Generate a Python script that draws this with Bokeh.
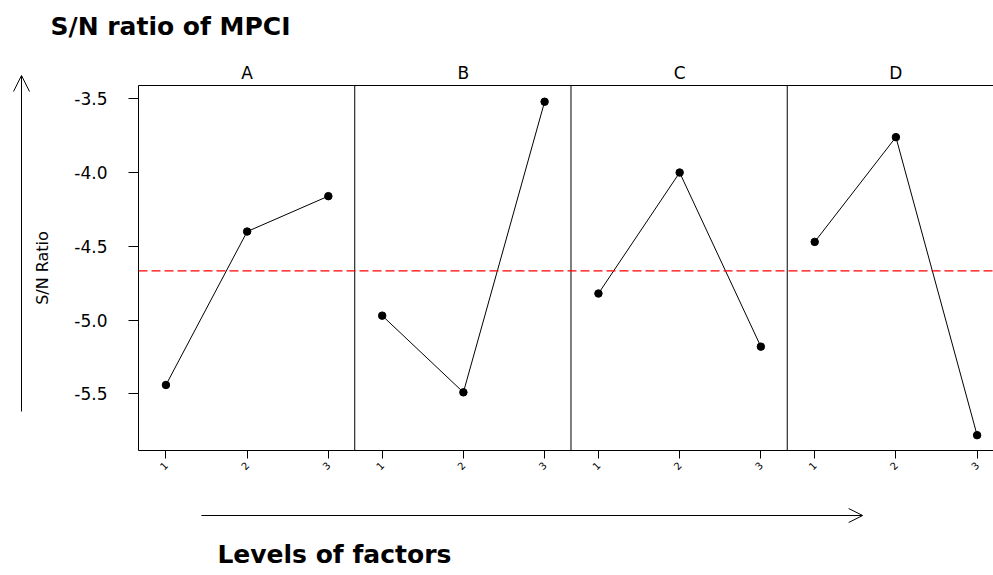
import math
import numpy as np
from bokeh.plotting import figure
from bokeh.layouts import row, column
from bokeh.models import (Range1d, LinearAxis, FixedTicker, Span, Arrow,
                          OpenHead, PrintfTickFormatter)
from bokeh.core.properties import value
from bokeh.embed import file_html
from bokeh.resources import INLINE

# ---- data ----
factors = ["A", "B", "C", "D"]
levels = [1, 2, 3]
level_labels = ["1", "2", "3"]
sn_A = [-5.44, -4.40, -4.16]
sn_B = [-4.97, -5.49, -3.52]
sn_C = [-4.82, -4.00, -5.18]
sn_D = [-4.47, -3.76, -5.78]
y_ticks = [-5.5, -5.0, -4.5, -4.0, -3.5]

series = [sn_A, sn_B, sn_C, sn_D]
grand_mean = float(np.mean(np.concatenate([np.array(s) for s in series])))

FONT = "DejaVu Sans"


def decor(w, h, xr, yr, left_border=0):
    f = figure(width=w, height=h, x_range=Range1d(*xr), y_range=Range1d(*yr),
               output_backend="svg", toolbar_location=None,
               x_axis_type=None, y_axis_type=None,
               min_border_left=left_border, min_border_right=0,
               min_border_top=0, min_border_bottom=0)
    f.outline_line_color = None
    f.background_fill_color = "white"
    f.border_fill_color = "white"
    return f


# ---- main panel figure ----
x_start = 0.662          # left edge of first panel in level units
panel_w = 2.663          # width of one panel in level units
x_end = x_start + 856 / 81.3

p = figure(width=963, height=425,
           x_range=Range1d(x_start, x_end), y_range=Range1d(-5.884, -3.41),
           output_backend="svg", toolbar_location=None,
           x_axis_type=None, y_axis_type=None,
           min_border_left=107, min_border_right=0,
           min_border_top=30, min_border_bottom=30)
p.outline_line_color = None
p.background_fill_color = "white"
p.border_fill_color = "white"

p.extra_x_ranges = {f"f{k}": Range1d(x_start - k * panel_w, x_end - k * panel_w)
                    for k in range(len(factors))}

for k in range(1, len(factors)):
    p.add_layout(Span(location=x_start + k * panel_w, dimension="height",
                      line_color="black", line_width=1))

p.add_layout(Span(location=grand_mean, dimension="width", line_color="#FF0000",
                  line_dash="9 4", line_width=1.3))

for k, vals in enumerate(series):
    p.line(levels, vals, x_range_name=f"f{k}", line_color="black", line_width=1)
    p.scatter(levels, vals, x_range_name=f"f{k}", size=7.5,
              fill_color="black", line_color="black")

tick_pos = [k * panel_w + lv for k in range(len(factors)) for lv in levels]
overrides = {k * panel_w + lv: lab for k in range(len(factors))
             for lv, lab in zip(levels, level_labels)}
xax = LinearAxis(ticker=FixedTicker(ticks=tick_pos), major_label_overrides=overrides,
                 major_label_orientation=math.pi / 4, major_label_text_font=FONT,
                 major_label_text_font_size="10px", major_label_text_color="black",
                 major_tick_out=8, major_tick_in=0, minor_tick_line_color=None,
                 major_label_standoff=5, axis_line_color="black",
                 major_tick_line_color="black")
p.add_layout(xax, "below")

strip_pos = [k * panel_w + levels[1] for k in range(len(factors))]
top = LinearAxis(ticker=FixedTicker(ticks=strip_pos),
                 major_label_overrides={sp: f for sp, f in zip(strip_pos, factors)},
                 major_label_text_font=FONT, major_label_text_font_size="17px",
                 major_label_text_color="black", major_label_standoff=3,
                 major_tick_line_color=None, minor_tick_line_color=None,
                 major_tick_out=0, major_tick_in=0,
                 axis_line_color="black")
p.add_layout(top, "above")

yax = LinearAxis(ticker=FixedTicker(ticks=y_ticks),
                 formatter=PrintfTickFormatter(format="%.1f"),
                 major_tick_out=10, major_tick_in=0, minor_tick_line_color=None,
                 major_label_standoff=21, major_label_text_font=FONT,
                 major_label_text_font_size="17px", major_label_text_color="black",
                 axis_label="S/N Ratio", axis_label_text_font=FONT,
                 axis_label_text_font_style="normal", axis_label_text_font_size="16px",
                 axis_label_text_color="black", axis_label_standoff=19,
                 axis_line_color="black", major_tick_line_color="black")
p.add_layout(yax, "left")

# ---- decoration figures (pixel coordinates, y downward) ----
head = decor(993, 55, (0, 993), (55, 0))
head.text(x=[50], y=[26], text=["S/N ratio of MPCI"], text_font=value(FONT),
          text_font_style="bold", text_font_size="25px",
          text_baseline="alphabetic", text_color="black")

left = decor(30, 520, (0, 30), (575, 55))
left.add_layout(Arrow(end=OpenHead(size=16, line_width=1, line_color="black"),
                      x_start=21, y_start=411, x_end=21, y_end=75,
                      line_color="black", line_width=1))

foot = decor(963, 95, (137, 993), (575, 480), left_border=107)
foot.add_layout(Arrow(end=OpenHead(size=14, line_width=1, line_color="black"),
                      x_start=200, y_start=515, x_end=862, y_end=515,
                      line_color="black", line_width=1))
foot.text(x=[216], y=[554], text=["Levels of factors"], text_font=value(FONT),
          text_font_style="bold", text_font_size="25px",
          text_baseline="alphabetic", text_color="black")

layout = column(head, row(left, column(p, foot, spacing=0), spacing=0), spacing=0)

open("out.html", "w").write(file_html(layout, INLINE))
